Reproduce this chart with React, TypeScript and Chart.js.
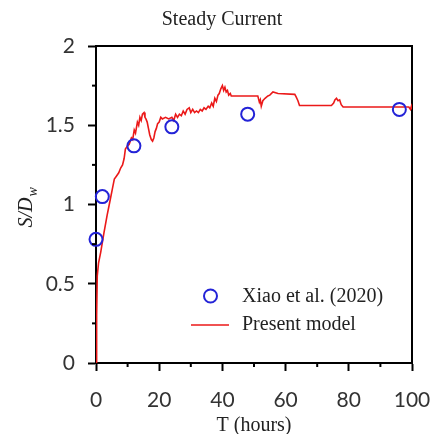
import React, { useEffect, useRef } from "react";
import { Chart, registerables } from "chart.js";

Chart.register(...registerables);

const chartTitle = "Steady Current";
const xTitle = "T (hours)";
const yTitleMain = "S/D";
const yTitleSub = "w";

const xiaoLabel = "Xiao et al. (2020)";
const xiaoT = [0, 2, 12, 24, 48, 96];
const xiaoS = [0.78, 1.05, 1.37, 1.49, 1.57, 1.6];

const modelLabel = "Present model";
const modelT = [
  0, 0.2, 0.4, 0.8, 1.5, 2.5, 3.5, 4.5, 5.2, 5.8, 6.5, 7.2, 7.8, 8.4, 8.9, 9.3, 10, 10.5, 11.2, 11.6,
  12.1, 12.5, 13.1, 13.5, 13.9, 14.3, 14.7, 15.2, 15.5, 15.8, 16.2, 16.6, 17, 17.5, 17.9, 18.3, 18.7,
  19.1, 19.5, 20, 20.5, 21, 22, 23, 24, 24.6, 25.2, 25.8, 26.4, 27, 27.6, 28.2, 28.8, 29.5, 30, 30.6,
  31.2, 31.8, 32.4, 33, 33.6, 34.2, 34.8, 35.5, 36, 36.6, 37.1, 37.6, 38.1, 38.6, 39, 39.5, 40, 40.4,
  40.8, 41.2, 41.6, 42, 42.5, 42.8, 51.2, 51.7, 52.0, 52.3, 52.8, 53.5, 54.4, 55, 56, 57.6, 62.9, 63.3,
  63.9, 64.4, 74.5, 75.2, 75.6, 76.1, 76.6, 77.1, 77.6, 78.2, 99, 99.5, 99.8, 100,
];
const modelS = [
  0, 0.3, 0.55, 0.63, 0.7, 0.82, 0.93, 1.03, 1.1, 1.16, 1.18, 1.2, 1.23, 1.25, 1.29, 1.35, 1.37, 1.38,
  1.42, 1.41, 1.47, 1.45, 1.52, 1.5, 1.55, 1.53, 1.57, 1.58, 1.55, 1.54, 1.52, 1.48, 1.44, 1.41, 1.4,
  1.42, 1.46, 1.48, 1.51, 1.52, 1.55, 1.54, 1.55, 1.54, 1.55, 1.53, 1.57, 1.55, 1.57, 1.56, 1.59, 1.57,
  1.6, 1.61, 1.58, 1.6, 1.58, 1.59, 1.58, 1.6, 1.59, 1.61, 1.6, 1.62, 1.61, 1.64, 1.62, 1.67, 1.65,
  1.69, 1.7, 1.73, 1.75, 1.72, 1.74, 1.71, 1.72, 1.69, 1.7, 1.685, 1.685, 1.645, 1.66, 1.62, 1.655,
  1.67, 1.685, 1.69, 1.71, 1.7, 1.695, 1.68, 1.655, 1.625, 1.625, 1.64, 1.66, 1.67, 1.655, 1.66, 1.63,
  1.615, 1.615, 1.6, 1.62, 1.6,
];

const xMinorTicks = [10, 30, 50, 70, 90];
const yMinorTicks = [0.25, 0.75, 1.25, 1.75];

const BLUE = "rgb(35,35,215)";
const RED = "rgb(235,25,25)";
const TEXT = "#222";

const decorPlugin = {
  id: "decor",
  afterDraw(chart: any) {
    const { ctx, scales } = chart;
    const x = scales.x;
    const y = scales.y;
    ctx.save();
    // minor ticks
    ctx.strokeStyle = "#000";
    ctx.lineWidth = 2;
    for (const t of xMinorTicks) {
      const px = x.getPixelForValue(t);
      ctx.beginPath();
      ctx.moveTo(px, y.bottom);
      ctx.lineTo(px, y.bottom + 4);
      ctx.stroke();
    }
    for (const t of yMinorTicks) {
      const py = y.getPixelForValue(t);
      ctx.beginPath();
      ctx.moveTo(x.left, py);
      ctx.lineTo(x.left - 4, py);
      ctx.stroke();
    }
    // y axis title with subscript
    ctx.fillStyle = TEXT;
    ctx.save();
    const cy = y.getPixelForValue(1);
    ctx.translate(32, cy + 23);
    ctx.rotate(-Math.PI / 2);
    ctx.textBaseline = "alphabetic";
    ctx.textAlign = "left";
    ctx.font = "italic 20px 'Liberation Serif'";
    ctx.fillText(yTitleMain, 0, 0);
    const w = ctx.measureText(yTitleMain).width;
    ctx.font = "italic 14px 'Liberation Serif'";
    ctx.fillText(yTitleSub, w + 1, 5);
    ctx.restore();
    // legend
    const ds0 = chart.data.datasets[0];
    const ds1 = chart.data.datasets[1];
    ctx.font = "20px 'Liberation Serif'";
    ctx.textBaseline = "middle";
    ctx.textAlign = "left";
    ctx.strokeStyle = BLUE;
    ctx.lineWidth = 2;
    ctx.beginPath();
    ctx.arc(210.5, 296, 6.5, 0, Math.PI * 2);
    ctx.stroke();
    ctx.fillStyle = TEXT;
    ctx.fillText(ds0.label, 242, 297);
    ctx.strokeStyle = RED;
    ctx.lineWidth = 1.5;
    ctx.beginPath();
    ctx.moveTo(191, 325);
    ctx.lineTo(229, 325);
    ctx.stroke();
    ctx.fillText(ds1.label, 242, 325);
    ctx.restore();
  },
};

export default function App() {
  const ref = useRef<HTMLCanvasElement | null>(null);
  useEffect(() => {
    if (!ref.current) return;
    const chart = new Chart(ref.current, {
      type: "line",
      data: {
        datasets: [
          {
            label: xiaoLabel,
            data: xiaoT.map((t, i) => ({ x: t, y: xiaoS[i] })),
            showLine: false,
            pointStyle: "circle",
            pointRadius: 6.5,
            pointBorderWidth: 2,
            pointBorderColor: BLUE,
            pointBackgroundColor: "rgba(0,0,0,0)",
            borderColor: BLUE,
            order: 0,
            clip: false as any,
          },
          {
            label: modelLabel,
            data: modelT.map((t, i) => ({ x: t, y: modelS[i] })),
            borderColor: RED,
            borderWidth: 1.6,
            pointRadius: 0,
            tension: 0,
            order: 1,
          },
        ],
      },
      options: {
        responsive: false,
        animation: false,
        layout: { padding: { left: 10, right: 0, top: 0, bottom: 0 } },
        plugins: {
          legend: { display: false },
          tooltip: { enabled: false },
          title: {
            display: true,
            text: chartTitle,
            color: TEXT,
            font: { family: "'Liberation Serif'", size: 20, weight: "normal" },
            padding: { top: 8, bottom: 14 },
          },
        },
        scales: {
          x: {
            type: "linear",
            position: "bottom",
            min: 0,
            max: 100,
            ticks: {
              stepSize: 20,
              color: "#333",
              font: { family: "Lato", size: 21 },
              padding: 17,
              maxRotation: 0,
            },
            grid: {
              drawOnChartArea: false,
              drawTicks: true,
              tickLength: 8,
              tickWidth: 2,
              tickColor: "#000",
            },
            border: { display: true, color: "#000", width: 2 },
            title: {
              display: true,
              text: xTitle,
              color: TEXT,
              font: { family: "'Liberation Serif'", size: 20, lineHeight: 1 },
              padding: { top: 0, bottom: -2 },
            },
            afterFit: (s: any) => {
              s.height = 71;
              s.paddingLeft = 0;
              s.paddingRight = 0;
            },
          },
          x2: {
            type: "linear",
            position: "top",
            min: 0,
            max: 100,
            ticks: { display: false },
            grid: { display: false },
            border: { display: true, color: "#000", width: 2 },
            afterFit: (s: any) => {
              s.height = 0;
              s.paddingLeft = 0;
              s.paddingRight = 0;
            },
          },
          y: {
            type: "linear",
            position: "left",
            min: 0,
            max: 2,
            ticks: {
              stepSize: 0.5,
              color: "#333",
              font: { family: "Lato", size: 21 },
              padding: 13,
              callback: (v: any) => String(v),
            },
            grid: {
              drawOnChartArea: false,
              drawTicks: true,
              tickLength: 8,
              tickWidth: 2,
              tickColor: "#000",
            },
            border: { display: true, color: "#000", width: 2 },
            afterFit: (s: any) => {
              s.width = 86;
            },
          },
          y2: {
            type: "linear",
            position: "right",
            min: 0,
            max: 2,
            ticks: { display: false },
            grid: { display: false },
            border: { display: true, color: "#000", width: 2 },
            afterFit: (s: any) => {
              s.width = 22;
            },
          },
        },
      } as any,
      plugins: [decorPlugin],
    });
    return () => chart.destroy();
  }, []);
  return (
    <div style={{ position: "fixed", left: 0, top: 0, width: 434, height: 434, background: "#fff" }}>
      <canvas ref={ref} width={434} height={434} />
    </div>
  );
}
